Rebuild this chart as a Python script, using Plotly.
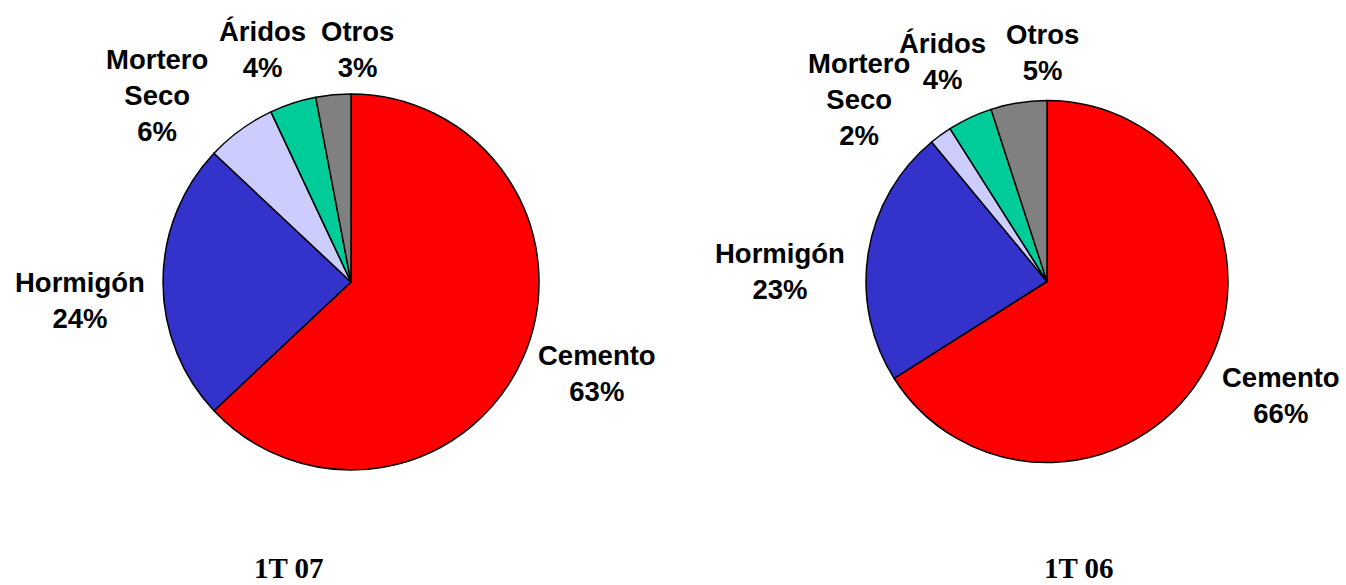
import plotly.graph_objects as go

categories = ["Cemento", "Hormigón", "Mortero Seco", "Áridos", "Otros"]
values_1t07 = [63, 24, 6, 4, 3]
values_1t06 = [66, 23, 2, 4, 5]
titles = ["1T 07", "1T 06"]
colors = ["#FF0000", "#3333CC", "#CCCCFF", "#00CC99", "#808080"]

W, H = 1346, 585

# label block centres (pixels) for each pie, in category order
label_pos_1 = [(597, 374), (80, 301), (157, 96), (262, 49), (357, 49)]
label_pos_2 = [(1281, 395), (780, 271), (859, 99), (943, 62), (1042, 52)]
title_pos = [(289, 568), (1079, 568)]


def px(x, y):
    return x / W, 1 - y / H


fig = go.Figure()
domains = [
    dict(x=[163 / W, 539 / W], y=[1 - 470 / H, 1 - 94 / H]),
    dict(x=[866 / W, 1228 / W], y=[1 - 462.5 / H, 1 - 100.5 / H]),
]
for vals, dom in zip([values_1t07, values_1t06], domains):
    fig.add_trace(go.Pie(
        labels=categories, values=vals, sort=False, direction="clockwise",
        rotation=0, domain=dom, textinfo="none", hoverinfo="label+percent",
        marker=dict(colors=colors, line=dict(color="black", width=1.5)),
        showlegend=False,
    ))

annotations = []
for vals, poss in [(values_1t07, label_pos_1), (values_1t06, label_pos_2)]:
    for cat, v, (x, y) in zip(categories, vals, poss):
        name = cat.replace(" ", "<br>")
        ax, ay = px(x, y)
        annotations.append(dict(
            x=ax, y=ay, xref="paper", yref="paper", xanchor="center", yanchor="middle",
            text=f"<b>{name}<br>{v}%</b>", showarrow=False, align="center",
            font=dict(family="Liberation Sans, Arial, sans-serif", size=27.5, color="black"),
        ))
for t, (x, y) in zip(titles, title_pos):
    ax, ay = px(x, y)
    annotations.append(dict(
        x=ax, y=ay, xref="paper", yref="paper", xanchor="center", yanchor="middle",
        text=f"<b>{t}</b>", showarrow=False, borderpad=0,
        font=dict(family="Liberation Serif, Times New Roman, serif", size=29, color="black"),
    ))

fig.update_layout(
    width=W, height=H, margin=dict(l=0, r=0, t=0, b=0),
    paper_bgcolor="white", plot_bgcolor="white", annotations=annotations,
)

fig.write_html(
    "out.html",
    config={"displayModeBar": False},
    post_script="document.body.style.margin='0';document.body.style.overflow='hidden';",
)
